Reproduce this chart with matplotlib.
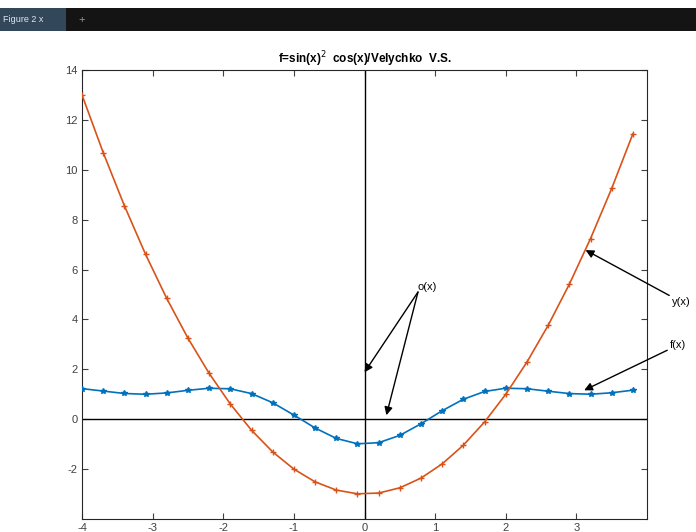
import matplotlib
matplotlib.use("Agg")
import matplotlib.pyplot as plt
from matplotlib.patches import Rectangle

plt.rcParams["axes.unicode_minus"] = False
plt.rcParams["font.family"] = ["Liberation Sans", "DejaVu Sans"]

# data
x_vals = [-4.0, -3.7, -3.4, -3.1, -2.8, -2.5, -2.2, -1.9, -1.6, -1.3, -1.0, -0.7, -0.4,
          -0.1, 0.2, 0.5, 0.8, 1.1, 1.4, 1.7, 2.0, 2.3, 2.6, 2.9, 3.2, 3.5, 3.8]
y_vals = [13.0, 10.69, 8.56, 6.61, 4.84, 3.25, 1.84, 0.61, -0.44, -1.31, -2.0, -2.51, -2.84,
          -2.99, -2.96, -2.75, -2.36, -1.79, -1.04, -0.11, 1.0, 2.29, 3.76, 5.41, 7.24, 9.25, 11.44]
f_vals = [1.226, 1.129, 1.032, 1.001, 1.054, 1.159, 1.242, 1.219, 1.028, 0.661, 0.168, -0.350, -0.769,
          -0.985, -0.941, -0.648, -0.182, 0.341, 0.801, 1.112, 1.243, 1.222, 1.123, 1.028, 1.002, 1.060, 1.165]
x_ticks = [-4, -3, -2, -1, 0, 1, 2, 3]
y_ticks = [-2, 0, 2, 4, 6, 8, 10, 12, 14]
title_text = "f=sin(x)$^2$  cos(x)/Velychko  V.S."

W, H = 696, 532
fig = plt.figure(figsize=(W / 100, H / 100), dpi=100)
fig.patch.set_facecolor("white")

# window top bar
bar = Rectangle((0, (H - 31) / H), 1, 23 / H, transform=fig.transFigure,
                facecolor="#141414", edgecolor="none", zorder=0)
fig.patches.append(bar)
tab = Rectangle((0, (H - 31) / H), 66 / W, 23 / H, transform=fig.transFigure,
                facecolor="#33475b", edgecolor="none", zorder=1)
fig.patches.append(tab)
fig.text(3 / W, (H - 20) / H, "Figure 2 x", color="#dfe6ee", fontsize=6.5, va="center", ha="left")
fig.text(78 / W, (H - 20) / H, "+", color="#9a9a9a", fontsize=8, va="center", ha="left")

ax = fig.add_axes([82 / W, (H - 519) / H, (647 - 82) / W, (519 - 70) / H])
ax.set_xlim(-4, 4)
ax.set_ylim(-4, 14)

blue = (0.0, 0.447, 0.741)
red = (0.85, 0.325, 0.098)
ax.plot(x_vals, f_vals, color=blue, lw=1.2, marker="*", ms=4, zorder=3)
ax.plot(x_vals, y_vals, color=red, lw=1.2, marker="+", ms=5, zorder=3)

ax.axhline(0, color="black", lw=1.0, zorder=2)
ax.axvline(0, color="black", lw=1.0, zorder=2)

ax.set_xticks(x_ticks)
ax.set_yticks(y_ticks)
ax.tick_params(direction="in", length=4, labelsize=8, colors="#404040", top=True, right=True,
               labeltop=False, labelright=False, pad=3)
for s in ax.spines.values():
    s.set_color("#262626")
    s.set_linewidth(0.8)

ax.set_title(title_text, fontsize=8.5, fontweight="bold", pad=5)

arrow = dict(arrowstyle="-|>", color="black", lw=1.0, mutation_scale=12, shrinkA=0, shrinkB=0)

def fp(px, py):
    return (px, H - py)

ax.annotate("y(x)", xy=(3.13, 6.78), xytext=fp(672, 302), textcoords="figure pixels",
            fontsize=8, va="center", ha="left", arrowprops=arrow, annotation_clip=False)
ax.annotate("f(x)", xy=(3.11, 1.16), xytext=fp(670, 345), textcoords="figure pixels",
            fontsize=8, va="center", ha="left", arrowprops=arrow, annotation_clip=False)
ax.annotate("", xy=(0.0, 1.88), xytext=fp(418, 292), textcoords="figure pixels",
            arrowprops=arrow)
ax.annotate("", xy=(0.31, 0.16), xytext=fp(418, 292), textcoords="figure pixels",
            arrowprops=arrow)
fig.text(417 / W, (H - 287) / H, "o(x)", fontsize=8, va="center", ha="left")

fig.savefig("out.png", dpi=100)
